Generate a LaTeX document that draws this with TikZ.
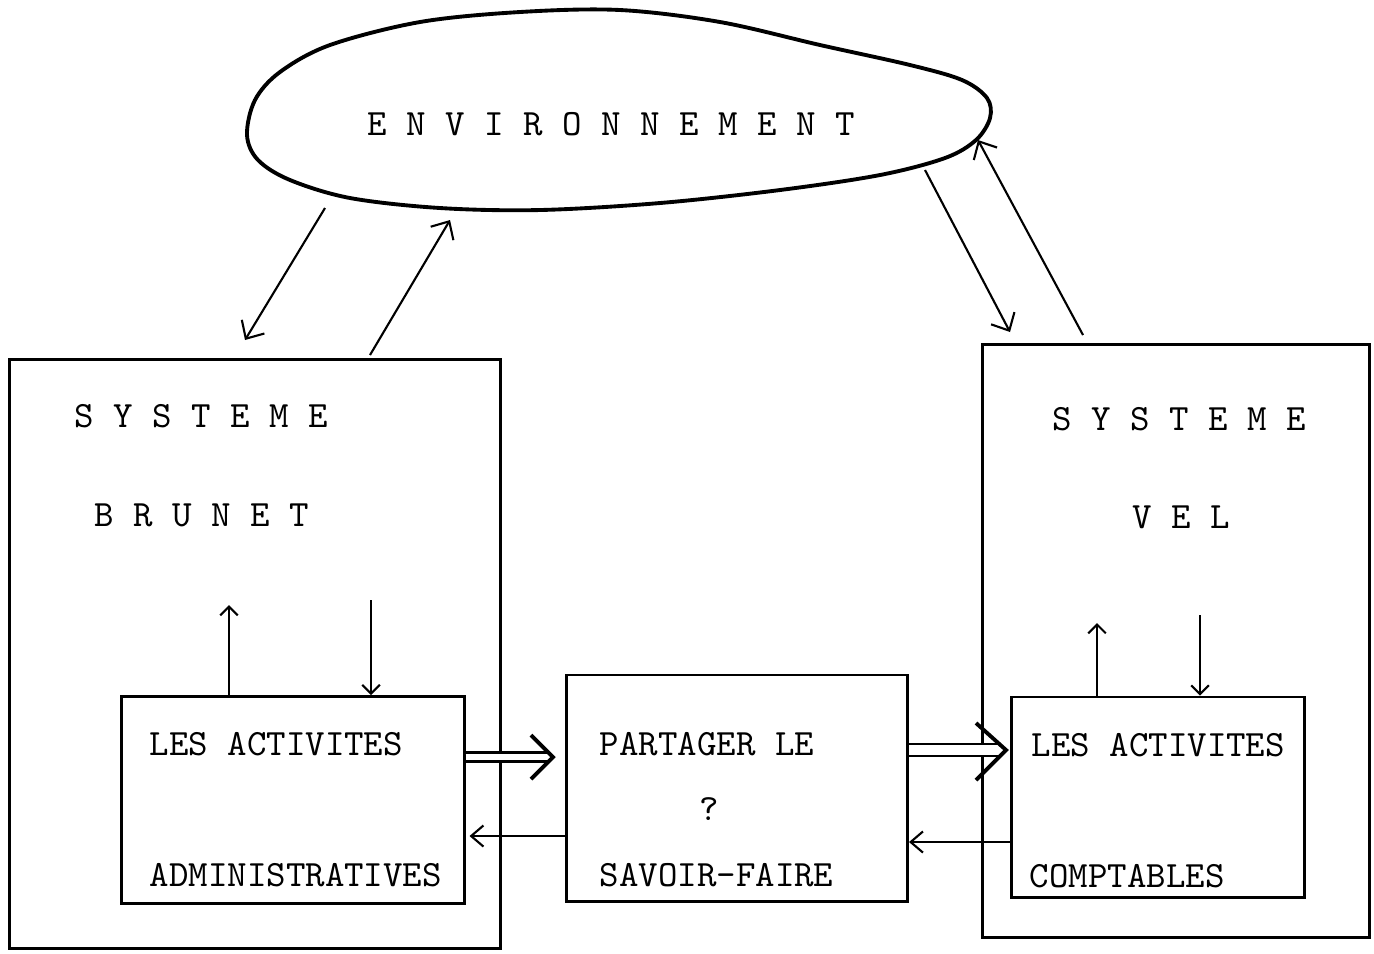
\documentclass[tikz,border=0pt]{standalone}
\usetikzlibrary{arrows.meta,calc}
\begin{document}
\begin{tikzpicture}[x=0.01cm,y=-0.01cm,
  txt/.style={font=\ttfamily\fontsize{10.55}{13}\selectfont, inner sep=0, anchor=base west},
  frame/.style={draw, line width=0.8pt, inner sep=0},
  arr/.style={line width=0.6pt, -{Straight Barb[length=4pt,width=7.5pt]}},
  small/.style={line width=0.6pt, -{Straight Barb[length=2.5pt,width=5pt]}},
  back/.style={line width=0.6pt, -{Straight Barb[length=3.5pt,width=6pt]}},
  flow/.style={line width=0.7pt, double, double distance=1.8pt},
  flowhead/.style={line width=1.1pt, line join=miter}
]
\useasboundingbox (0,0) rectangle (1374,953);

% the environment cloud
\draw[line width=1.1pt] plot[smooth cycle, tension=0.55] coordinates {
  (247,135) (255,100) (280,72) (330,45) (420,22) (520,12) (620,10)
  (720,22) (820,45) (910,65) (962,80) (987,98) (990,118) (976,140)
  (945,158) (880,175) (780,190) (660,203) (540,210) (440,208) (350,198)
  (290,180) (258,160)};
\node[txt] (env) at (367,135) {E N V I R O N N E M E N T};

% outer systems
\node[frame, minimum width=4.9cm, minimum height=5.88cm] (brunet) at (255,654) {};
\node[frame, minimum width=3.87cm, minimum height=5.93cm] (vel) at (1176,641) {};
\node[txt] (s1) at (74,427) {S Y S T E M E};
\node[txt] (s2) at (94,526) {B R U N E T};
\node[txt] (s3) at (1052,430) {S Y S T E M E};
\node[txt] (s4) at (1132,528) {V E L};

% inner activities
\node[frame, minimum width=3.42cm, minimum height=2.07cm] (lin) at (293,800) {};
\node[frame, minimum width=3.41cm, minimum height=2.26cm] (mid) at (737,788) {};
\node[frame, minimum width=2.93cm, minimum height=2.0cm] (rin) at (1158,797) {};
\node[txt] (t1) at (149,755) {LES ACTIVITES};
\node[txt] (t2) at (149,886) {ADMINISTRATIVES};
\node[txt] (t3) at (599,755) {PARTAGER LE};
\node[txt] (t4) at (699,820) {?};
\node[txt] (t5) at (599,886) {SAVOIR-FAIRE};
\node[txt] (t6) at (1031,756) {LES ACTIVITES};
\node[txt] (t7) at (1029,887) {COMPTABLES};

% exchanges with the environment
\coordinate (e1) at (325,208);
\coordinate (b1) at (245,340);
\coordinate (b2) at (370,355);
\coordinate (e2) at (450,220);
\coordinate (e3) at (925,170);
\coordinate (v1) at (1010,332);
\coordinate (v2) at (1083,335);
\coordinate (e4) at (978,140);
\draw[arr] (e1) -- (b1);
\draw[arr] (b2) -- (e2);
\draw[arr] (e3) -- (v1);
\draw[arr] (v2) -- (e4);

% exchanges inside each system
\coordinate (bu) at (229,605);
\coordinate (bd) at (371,600);
\coordinate (vu) at (1097,623);
\coordinate (vd) at (1200,615);
\draw[small] (bu |- lin.north) -- (bu);
\draw[small] (bd) -- (bd |- lin.north);
\draw[small] (vu |- rin.north) -- (vu);
\draw[small] (vd) -- (vd |- rin.north);

% sharing of know-how: double arrows with wide open heads
\coordinate (p1) at ($(mid.west |- 0,757)+(-12,0)$);
\coordinate (p2) at ($(rin.west |- 0,750)+(-4,0)$);
\draw[flow] (lin.east |- 0,757) -- ($(p1)+(-3,0)$);
\draw[flowhead] ($(p1)+(-22,-22)$) -- (p1) -- ($(p1)+(-22,22)$);
\draw[flow, double distance=2.6pt] (mid.east |- 0,750) -- ($(p2)+(-6,0)$);
\draw[flowhead] ($(p2)+(-30,-27)$) -- (p2) -- ($(p2)+(-30,30)$);

% returns
\draw[back] (mid.west |- 0,836) -- ($(lin.east |- 0,836)+(4,0)$);
\draw[back] (rin.west |- 0,842) -- (mid.east |- 0,842);
\end{tikzpicture}
\end{document}
